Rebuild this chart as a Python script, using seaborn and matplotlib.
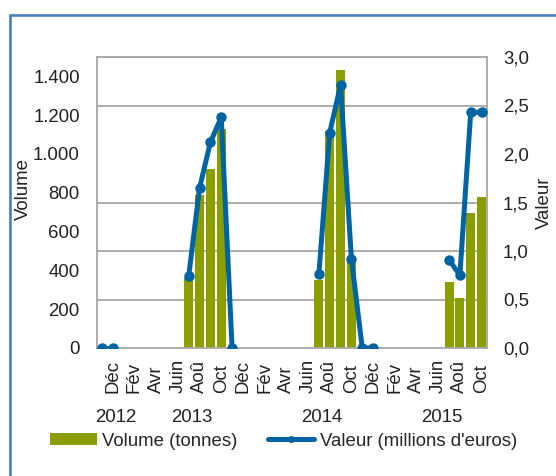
import numpy as np
import pandas as pd
import matplotlib
matplotlib.use('Agg')
import matplotlib.pyplot as plt
import matplotlib.transforms as mtrans
import seaborn as sns
from matplotlib.patches import Patch, Rectangle
from matplotlib.lines import Line2D
from matplotlib.ticker import FuncFormatter

nan = np.nan
noms_mois = ['Jan', 'Fév', 'Mar', 'Avr', 'Mai', 'Juin', 'Juil', 'Aoû', 'Sep', 'Oct', 'Nov', 'Déc']
annees = [2012, 2013, 2014, 2015]
mois_par_annee = {2012: noms_mois[10:], 2013: noms_mois, 2014: noms_mois, 2015: noms_mois[:10]}

# Volume (tonnes), axe gauche
volume = {
    2012: [nan, nan],
    2013: [nan, nan, nan, nan, nan, nan, 361, 790, 924, 1129, nan, nan],
    2014: [nan, nan, nan, nan, nan, nan, 349, 1120, 1433, 470, nan, nan],
    2015: [nan, nan, nan, nan, nan, nan, 342, 258, 694, 780],
}
# Valeur (millions d'euros), axe droit
valeur = {
    2012: [0.0, 0.0],
    2013: [nan, nan, nan, nan, nan, nan, 0.74, 1.65, 2.12, 2.38, 0.0, nan],
    2014: [nan, nan, nan, nan, nan, nan, 0.76, 2.22, 2.71, 0.92, 0.0, 0.0],
    2015: [nan, nan, nan, nan, nan, nan, 0.91, 0.75, 2.43, 2.43],
}

VERT = '#8a9e00'
BLEU = '#0064a2'
GRIS = '#a6a6a6'
FS = 13.4

rows = []
for a in annees:
    for m, vol, val in zip(mois_par_annee[a], volume[a], valeur[a]):
        rows.append({'annee': a, 'mois': m, 'volume': vol, 'valeur': val})
df = pd.DataFrame(rows)
df['idx'] = np.arange(len(df))
df['segment'] = df['valeur'].isna().cumsum()

sns.set_theme(style='white')
plt.rcParams['font.family'] = ['Liberation Sans', 'DejaVu Sans']

fig = plt.figure(figsize=(5.56, 4.76), dpi=100)
ax = fig.add_axes([96.5/556, 1-348/476, (487-96.5)/556, (348-57)/476])
ax2 = ax.twinx()

sns.barplot(data=df.dropna(subset=['volume']), x='idx', y='volume', order=list(df['idx']),
            color=VERT, saturation=1, width=0.83, linewidth=0, ax=ax, zorder=2)
ax.set_xlim(-0.5, len(df) - 0.5)
ax.set_ylim(0, 1500)
ax.set_yticks(np.arange(0, 1401, 200))
ax.set_yticks(np.arange(0, 1501, 250), minor=True)
ax.yaxis.set_major_formatter(FuncFormatter(lambda v, p: f'{int(v):,}'.replace(',', '.')))
ax.grid(False)
ax.grid(True, which='minor', axis='y', color=GRIS, linewidth=1.3)
ax.set_axisbelow(True)
ax.tick_params(axis='y', which='both', length=0, pad=12, labelsize=FS, colors='#222222')

pos = list(range(1, len(df), 2))
ax.set_xticks(pos)
ax.set_xticklabels([df['mois'][i] for i in pos], rotation=90, fontsize=FS, color='#222222')
for lbl in ax.get_xticklabels():
    lbl.set_verticalalignment('bottom')
ax.tick_params(axis='x', length=0, pad=32.4)
ax.set_xlabel('')
ax.set_ylabel('Volume', fontsize=FS, color='#222222')
ax.yaxis.set_label_coords(-0.165, 0.546)
for s in ax.spines.values():
    s.set_color(GRIS)
    s.set_linewidth(1.3)

sns.lineplot(data=df.dropna(subset=['valeur']), x='idx', y='valeur', units='segment', estimator=None,
             color=BLEU, linewidth=3.6, marker='o', markersize=7.5, markeredgewidth=0,
             legend=False, ax=ax2)
ax2.set_ylim(0, 3.0)
ax2.set_yticks(np.arange(0, 3.01, 0.5))
ax2.yaxis.set_major_formatter(FuncFormatter(lambda v, p: f'{v:.1f}'.replace('.', ',')))
ax2.tick_params(axis='y', length=0, pad=11.5, labelsize=FS, colors='#222222')
ax2.set_ylabel('Valeur', fontsize=FS, color='#222222')
ax2.yaxis.set_label_coords(1.125, 0.5)
ax2.grid(False)
for s in ax2.spines.values():
    s.set_visible(False)
ax2.set_xlim(-0.5, len(df) - 0.5)

# années sous l'axe
trans = mtrans.blended_transform_factory(ax.transData, fig.transFigure)
for a in annees:
    sub = df[df['annee'] == a]
    ax.text(sub['idx'].mean() + 0.8, 1 - 418/476, str(a), transform=trans,
            ha='center', va='center', fontsize=FS, color='#222222')

handles = [Patch(facecolor=VERT, edgecolor='none'),
           Line2D([], [], color=BLEU, linewidth=3.6, marker='o', markersize=4)]
fig.legend(handles, ['Volume (tonnes)', "Valeur (millions d'euros)"], loc='center',
           bbox_to_anchor=(0.51, 1 - 441/476), ncol=2, frameon=False, fontsize=FS,
           handlelength=2.5, handleheight=0.55, handletextpad=0.3, columnspacing=1.6)

fig.patches.append(Rectangle((10/556, -0.2), 1.5, 1.2 - 15/476, transform=fig.transFigure,
                             fill=False, edgecolor='#4a7ebb', linewidth=1.9))

fig.savefig('out.png', dpi=100)
